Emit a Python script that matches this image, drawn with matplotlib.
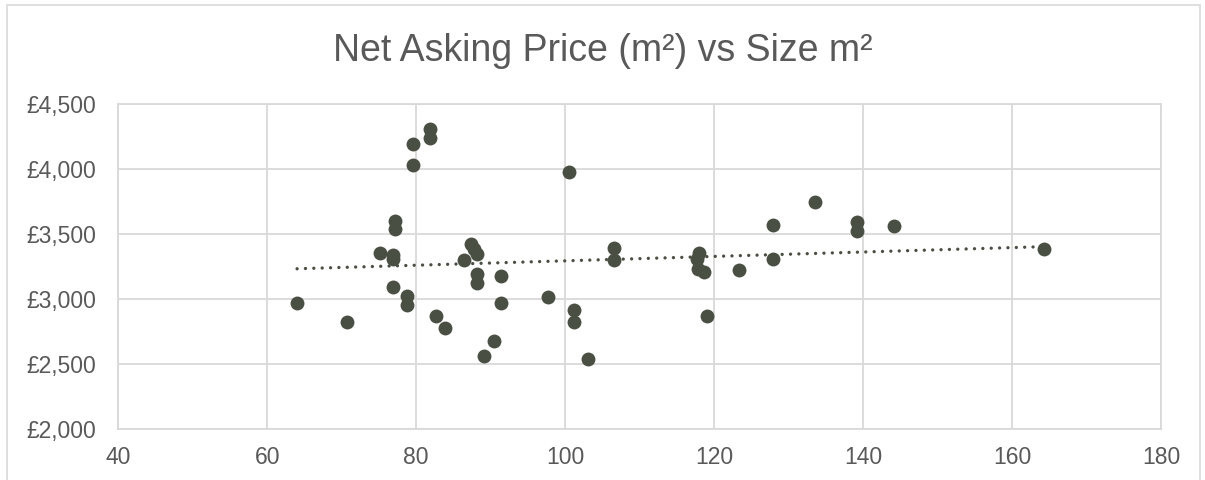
import numpy as np
import matplotlib
matplotlib.use('Agg')
import matplotlib.pyplot as plt
from matplotlib.patches import Rectangle
from matplotlib.ticker import FuncFormatter

## Data
size_m2 = [64.0, 70.7, 75.1, 76.9, 76.9, 76.9, 77.2, 77.2, 78.8, 78.8,
           79.5, 79.5, 81.8, 81.8, 82.7, 83.9, 86.4, 87.4, 87.7, 88.1,
           88.1, 88.1, 89.1, 90.4, 91.4, 91.4, 97.7, 100.5, 101.2, 101.2,
           103.1, 106.5, 106.5, 117.9, 117.7, 117.8, 118.7, 119.1, 123.3,
           127.9, 127.9, 133.5, 139.2, 139.2, 144.1, 164.3]
price_m2 = [2974, 2825, 3353, 3337, 3309, 3091, 3601, 3537, 3022, 2956,
            4190, 4034, 4305, 4241, 2874, 2779, 3301, 3427, 3385, 3348,
            3194, 3127, 2561, 2682, 3180, 2969, 3017, 3975, 2915, 2823,
            2538, 3394, 3301, 3357, 3311, 3229, 3206, 2874, 3225,
            3570, 3312, 3745, 3591, 3522, 3565, 3386]
x_ticks = [40, 60, 80, 100, 120, 140, 160, 180]
y_ticks = [2000, 2500, 3000, 3500, 4000, 4500]
title = 'Net Asking Price (m²) vs Size m²'

point_color = '#4a4f43'
text_color = '#595959'
grid_color = '#d9d9d9'

plt.rcParams['font.family'] = ['Liberation Sans', 'DejaVu Sans']

fig = plt.figure(figsize=(12.05, 4.8), dpi=100)
ax = fig.add_axes([0.0982, 0.1056, 0.8653, 0.6777])

# outer chart border
fig.patches.append(Rectangle((0.006, -0.01), 0.99, 1.0, transform=fig.transFigure,
                             fill=False, edgecolor=grid_color, linewidth=1.2))

## Scatter + linear trend
ax.scatter(size_m2, price_m2, s=100, color=point_color, zorder=3, linewidths=0)

x = np.array(size_m2)
coef = np.polyfit(x, np.array(price_m2), 1)
xs = np.linspace(x.min(), x.max(), 100)
ax.plot(xs, np.polyval(coef, xs), color=point_color, linewidth=2.4,
        linestyle=(0, (0.01, 2.5)), dash_capstyle='round', zorder=2)

## Axes styling
ax.set_xlim(40, 180)
ax.set_ylim(2000, 4500)
ax.set_xticks(x_ticks)
ax.set_yticks(y_ticks)
ax.yaxis.set_major_formatter(FuncFormatter(lambda v, p: '£{:,.0f}'.format(v)))
ax.grid(True, color=grid_color, linewidth=1.3, zorder=0)
ax.set_axisbelow(True)
for sp in ax.spines.values():
    sp.set_color(grid_color)
    sp.set_linewidth(1.3)
ax.tick_params(length=0, labelsize=16.5, colors=text_color)
ax.tick_params(axis='y', pad=16)
ax.tick_params(axis='x', pad=12)

fig.text(0.5, 0.893, title, ha='center', va='center', fontsize=27, color=text_color)

plt.savefig('out.png', dpi=100)
